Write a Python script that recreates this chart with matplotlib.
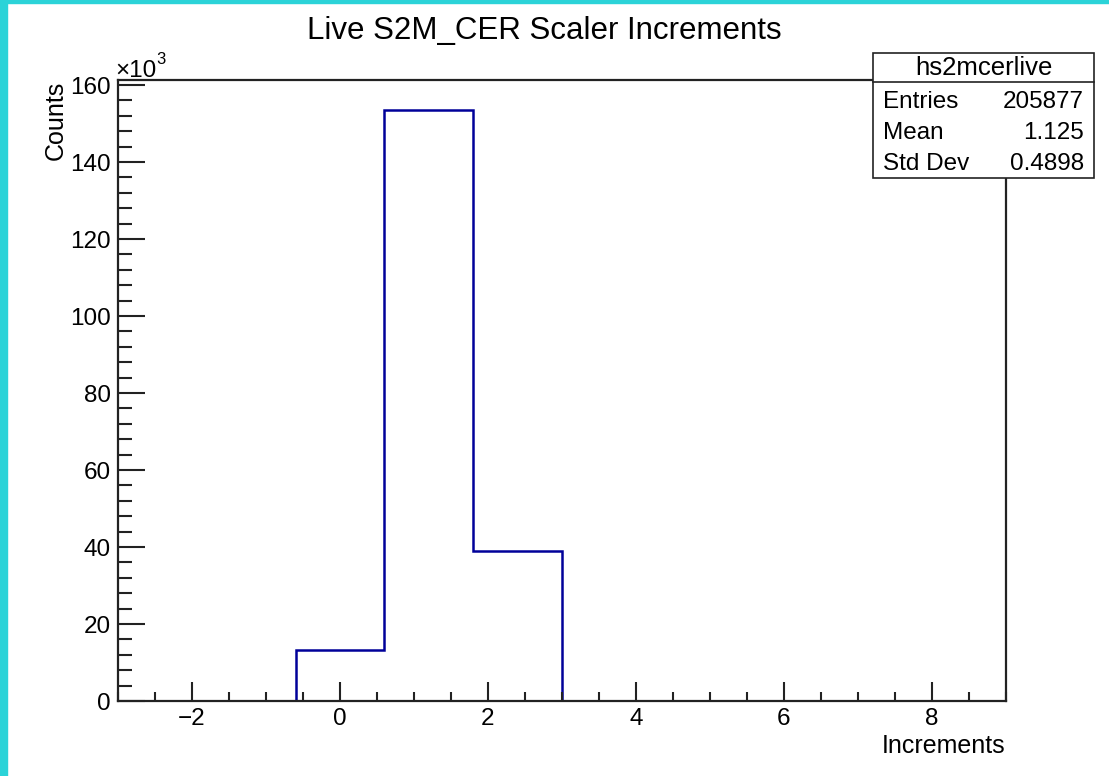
import matplotlib

matplotlib.use("Agg")
import matplotlib.pyplot as plt
import numpy as np
from matplotlib.patches import Rectangle
from matplotlib.ticker import FuncFormatter, MultipleLocator

plt.rcParams["font.family"] = ["Liberation Sans", "DejaVu Sans"]

# histogram: 10 bins of width 1.2 from -3 to 9
bin_edges = [-3.0, -1.8, -0.6, 0.6, 1.8, 3.0, 4.2, 5.4, 6.6, 7.8, 9.0]
bin_counts = [0, 0, 13300, 153400, 38900, 0, 0, 0, 0, 0]

hist_name = "hs2mcerlive"
stat_labels = ["Entries", "Mean", "Std Dev"]
stat_values = ["205877", "1.125", "0.4898"]

W, H = 1109, 776
fig = plt.figure(figsize=(W / 100, H / 100), dpi=100)

# cyan frame strips along the left and top edges
fig.patches.append(Rectangle((0, 0), 7 / W, 1, transform=fig.transFigure,
                             color="#2bd3d8", zorder=0))
fig.patches.append(Rectangle((0, 1 - 3 / H), 1, 3 / H, transform=fig.transFigure,
                             color="#2bd3d8", zorder=0))

ax = fig.add_axes([118 / W, 1 - 701 / H, (1006 - 118) / W, (701 - 80) / H])

ax.stairs(bin_counts, bin_edges, color="#000099", linewidth=1.8)

ax.set_xlim(-3, 9)
ax.set_ylim(0, 161300)

ax.xaxis.set_major_locator(MultipleLocator(2))
ax.xaxis.set_minor_locator(MultipleLocator(0.5))
ax.yaxis.set_major_locator(MultipleLocator(20000))
ax.yaxis.set_minor_locator(MultipleLocator(4000))
ax.yaxis.set_major_formatter(FuncFormatter(lambda v, p: f"{v / 1000:g}"))

ax.tick_params(axis="both", which="both", direction="in", top=False, right=False,
               labelsize=17.5, width=1.5, color="#222222")
ax.tick_params(axis="y", which="major", length=19.5, pad=5)
ax.tick_params(axis="y", which="minor", length=10)
ax.tick_params(axis="x", which="major", length=13.5, pad=5)
ax.tick_params(axis="x", which="minor", length=6.5)
for s in ax.spines.values():
    s.set_linewidth(1.6)
    s.set_color("#222222")

fig.text(544 / W, 1 - 31 / H, "Live S2M_CER Scaler Increments", ha="center",
         va="center", fontsize=22.5)
fig.text(1005 / W, 1 - 746 / H, "Increments", ha="right", va="center", fontsize=18)
fig.text(56 / W, 1 - 81 / H, "Counts", ha="center", va="top", rotation=90,
         fontsize=18)
fig.text(115 / W, 1 - 77 / H, "\u00d710", ha="left", va="baseline", fontsize=17.5)
fig.text(156 / W, 1 - 64 / H, "3", ha="left", va="baseline", fontsize=12)

# stats box
bx0, bx1, by0, by1 = 873, 1094, 53, 178
fig.patches.append(Rectangle((bx0 / W, 1 - by1 / H), (bx1 - bx0) / W, (by1 - by0) / H,
                             transform=fig.transFigure, facecolor="white",
                             edgecolor="#222222", linewidth=1.2, zorder=5))
fig.add_artist(plt.Line2D([bx0 / W, bx1 / W], [1 - 82 / H, 1 - 82 / H],
                          transform=fig.transFigure, color="#222222",
                          linewidth=1.2, zorder=6))
fig.text((bx0 + bx1) / 2 / W, 1 - 68 / H, hist_name, ha="center", va="center",
         fontsize=18.5, zorder=7)
for i, (lab, val) in enumerate(zip(stat_labels, stat_values)):
    y = 1 - (102 + 31 * i) / H
    fig.text(883 / W, y, lab, ha="left", va="center", fontsize=17.5, zorder=7)
    fig.text(1084 / W, y, val, ha="right", va="center", fontsize=17.5, zorder=7)

fig.savefig("out.png", dpi=100)
